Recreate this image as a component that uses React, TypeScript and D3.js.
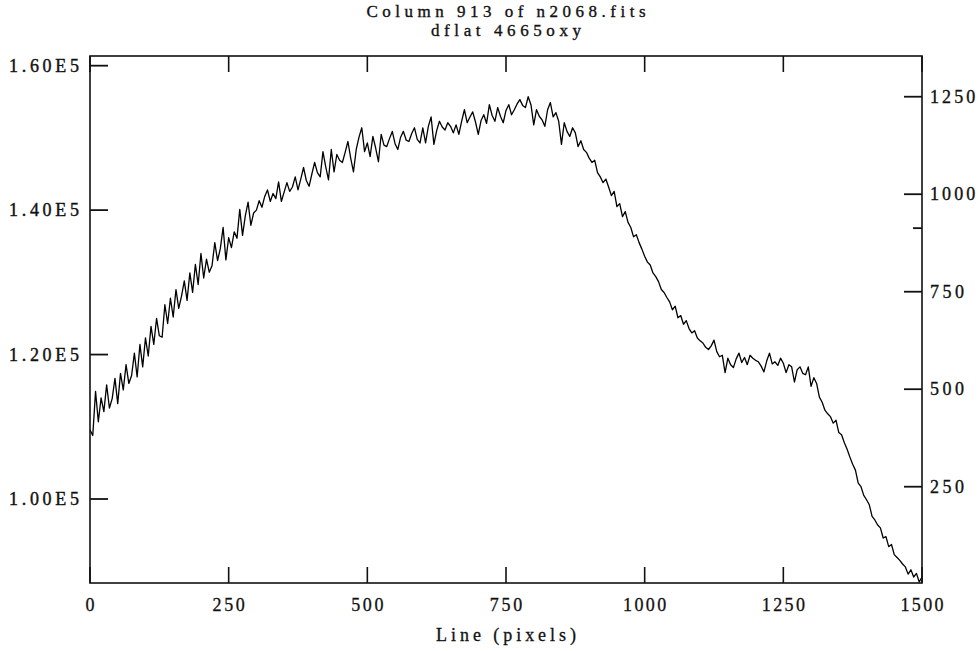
import React from 'react';
import * as d3 from 'd3';

// ---------- data ----------
const TITLE = 'Column 913 of n2068.fits';
const SUBTITLE = 'dflat 4665oxy';
const X_LABEL = 'Line (pixels)';
const X_TICKS = [0, 250, 500, 750, 1000, 1250, 1500];
const LEFT_TICKS = [100, 120, 140, 160]; // thousands of counts
const LEFT_TICK_LABELS = ['1.00E5', '1.20E5', '1.40E5', '1.60E5'];
const RIGHT_TICKS = [250, 500, 750, 1000, 1250];
const COLUMN_MARK = 913;
const LINE_STEP = 5; // sampled every 5 lines, from line 0 to 1500

// counts (in thousands) along the column, lines 0..1500 step 5
const COUNTS_K = [
  // 0-95
  109.6, 108.8, 114.9, 110.7, 114.0, 112.1, 115.8, 112.6, 113.9, 116.7,
  113.2, 117.4, 115.1, 118.6, 116.0, 117.1, 120.2, 116.9, 121.4, 118.3,
  // 100-195
  122.3, 119.8, 123.9, 121.4, 125.0, 122.6, 122.4, 126.9, 124.3, 127.8,
  125.2, 129.0, 126.4, 128.1, 130.2, 127.5, 131.3, 128.6, 132.5, 129.7,
  // 200-295
  134.0, 130.6, 133.2, 131.4, 132.3, 135.5, 133.0, 134.7, 137.6, 133.1,
  136.2, 134.8, 137.0, 136.1, 140.1, 136.5, 139.2, 141.1, 137.9, 139.6,
  // 300-395
  140.0, 141.3, 140.4, 141.9, 142.8, 141.2, 142.3, 141.6, 143.9, 141.2,
  142.5, 143.8, 142.6, 143.2, 144.6, 142.8, 144.3, 145.9, 144.1, 143.3,
  // 400-495
  145.0, 146.6, 145.2, 144.6, 148.1, 146.0, 144.2, 148.4, 145.3, 147.7,
  146.9, 146.6, 148.0, 149.5, 147.2, 145.3, 148.4, 150.1, 151.4, 148.1,
  // 500-595
  149.3, 147.4, 150.2, 148.6, 146.7, 150.5, 149.0, 148.8, 149.9, 150.9,
  149.2, 148.4, 150.1, 150.9, 149.7, 149.5, 150.6, 151.4, 149.8, 149.3,
  // 600-695
  151.4, 149.3, 151.6, 152.9, 149.1, 151.0, 152.3, 151.5, 151.1, 152.1,
  151.6, 150.7, 151.8, 150.5, 152.3, 153.9, 152.1, 152.9, 153.6, 152.2,
  // 700-795
  150.5, 152.4, 153.2, 152.0, 154.6, 153.1, 152.3, 154.2, 153.0, 152.1,
  153.8, 154.6, 153.2, 153.9, 154.7, 155.3, 154.5, 154.2, 155.7, 154.6,
  // 800-895
  151.8, 153.9, 153.0, 152.5, 151.6, 153.9, 154.9, 152.9, 153.5, 152.3,
  149.1, 152.1, 150.9, 150.2, 151.4, 150.7, 148.8, 149.6, 148.4, 148.0,
  // 900-995
  147.2, 146.6, 146.9, 145.2, 144.6, 143.8, 144.3, 143.2, 142.0, 142.6,
  140.5, 140.9, 139.1, 139.8, 138.3, 137.6, 136.3, 136.6, 135.5, 134.6,
  // 1000-1095
  133.6, 132.8, 132.4, 131.3, 130.8, 130.1, 129.0, 128.6, 127.9, 127.3,
  126.2, 126.7, 125.1, 125.4, 124.2, 124.7, 123.6, 123.0, 123.3, 122.3,
  // 1100-1195
  121.9, 121.6, 121.0, 120.7, 121.2, 122.0, 120.4, 119.7, 119.9, 117.5,
  119.5, 118.6, 118.2, 119.4, 120.2, 118.9, 119.6, 118.6, 119.9, 119.5,
  // 1200-1295
  119.2, 119.0, 118.4, 117.6, 119.1, 120.2, 118.7, 119.0, 118.5, 119.5,
  118.8, 117.5, 118.6, 118.3, 116.2, 117.9, 118.3, 117.4, 117.2, 118.3,
  // 1300-1395
  115.6, 116.8, 116.0, 114.1, 113.4, 112.3, 111.8, 111.4, 110.5, 110.9,
  109.2, 108.9, 107.8, 106.9, 105.8, 104.8, 104.0, 102.2, 101.7, 100.5,
  // 1400-1500
  99.9, 99.2, 97.6, 97.1, 96.4, 96.0, 94.6, 94.8, 93.4, 93.7,
  92.3, 91.9, 91.5, 91.0, 90.6, 89.6, 90.2, 89.2, 89.7, 88.5,
  89.2,
];

// ---------- layout ----------
const W = 979;
const H = 651;
const LEFT = 90;
const RIGHT = 922;
const TOP = 56;
const BOTTOM = 583;
const FONT = '"Liberation Serif", "DejaVu Serif", serif';

export default function App() {
  const x = d3.scaleLinear().domain([0, 1500]).range([LEFT, RIGHT]);
  const yL = d3.scaleLinear().domain([88.37, 161.34]).range([BOTTOM, TOP]);
  const yR = d3.scaleLinear().domain([3.1, 1354.4]).range([BOTTOM, TOP]);

  const pts: [number, number][] = COUNTS_K.map((v, i) => [i * LINE_STEP, v]);
  const path = d3
    .line<[number, number]>()
    .x((d) => x(d[0]))
    .y((d) => yL(d[1]))(pts) as string;

  const tickLen = 18;
  const vTickLen = 16;
  const cx = (LEFT + RIGHT) / 2;

  return (
    <svg
      width={W}
      height={H}
      viewBox={`0 0 ${W} ${H}`}
      style={{ position: 'absolute', left: 0, top: 0, background: '#fff' }}
    >
      <rect x={0} y={0} width={W} height={H} fill="#fff" />
      <defs>
        <clipPath id="plotclip">
          <rect x={LEFT} y={TOP} width={RIGHT - LEFT} height={BOTTOM - TOP} />
        </clipPath>
      </defs>

      {/* titles */}
      <g fontFamily={FONT} fontSize={17} fill="#111" stroke="#111" strokeWidth={0.35} textAnchor="middle">
        <text x={cx} y={16.5} textLength={279} lengthAdjust="spacing">{TITLE}</text>
        <text x={cx} y={35.5} textLength={150} lengthAdjust="spacing">{SUBTITLE}</text>
      </g>
      <g fontFamily={FONT} fontSize={18} fill="#111" stroke="#111" strokeWidth={0.3} textAnchor="middle">
        <text x={cx} y={641} textLength={140} lengthAdjust="spacing">{X_LABEL}</text>
      </g>

      {/* data line */}
      <path
        d={path}
        fill="none"
        stroke="#000"
        strokeWidth={1.3}
        strokeLinejoin="round"
        clipPath="url(#plotclip)"
      />

      {/* frame */}
      <rect
        x={LEFT}
        y={TOP}
        width={RIGHT - LEFT}
        height={BOTTOM - TOP}
        fill="none"
        stroke="#111"
        strokeWidth={1.6}
      />

      {/* x ticks, bottom and top */}
      <g stroke="#111" strokeWidth={1.6}>
        {X_TICKS.map((t) => (
          <g key={`xt${t}`}>
            <line x1={x(t)} x2={x(t)} y1={BOTTOM} y2={BOTTOM - vTickLen} />
            <line x1={x(t)} x2={x(t)} y1={TOP} y2={TOP + vTickLen} />
          </g>
        ))}
      </g>
      <g fontFamily={FONT} fontSize={18} fill="#111" stroke="#111" strokeWidth={0.3} textAnchor="middle">
        {X_TICKS.map((t) => (
          <text
            key={`xl${t}`}
            x={x(t)}
            y={611}
            textLength={String(t).length * 10.8}
            lengthAdjust="spacing"
          >
            {t}
          </text>
        ))}
      </g>

      {/* left axis */}
      <g stroke="#111" strokeWidth={1.8}>
        {LEFT_TICKS.map((t) => (
          <line key={`lt${t}`} x1={LEFT} x2={LEFT + tickLen} y1={yL(t)} y2={yL(t)} />
        ))}
      </g>
      <g fontFamily={FONT} fontSize={18} fill="#111" textAnchor="end" stroke="#111" strokeWidth={0.4}>
        {LEFT_TICKS.map((t, i) => (
          <text
            key={`ll${t}`}
            x={79}
            y={yL(t) + 6}
            textLength={70}
            lengthAdjust="spacing"
          >
            {LEFT_TICK_LABELS[i]}
          </text>
        ))}
      </g>

      {/* right axis */}
      <g stroke="#111" strokeWidth={1.8}>
        {RIGHT_TICKS.map((t) => (
          <line key={`rt${t}`} x1={RIGHT} x2={RIGHT - tickLen} y1={yR(t)} y2={yR(t)} />
        ))}
        <line x1={RIGHT} x2={RIGHT - 9} y1={yR(COLUMN_MARK)} y2={yR(COLUMN_MARK)} />
      </g>
      <g fontFamily={FONT} fontSize={18} fill="#111" textAnchor="start" stroke="#111" strokeWidth={0.35}>
        {RIGHT_TICKS.map((t) => (
          <text
            key={`rl${t}`}
            x={930}
            y={yR(t) + 6}
            textLength={String(t).length * 11.3}
            lengthAdjust="spacing"
          >
            {t}
          </text>
        ))}
      </g>
    </svg>
  );
}
